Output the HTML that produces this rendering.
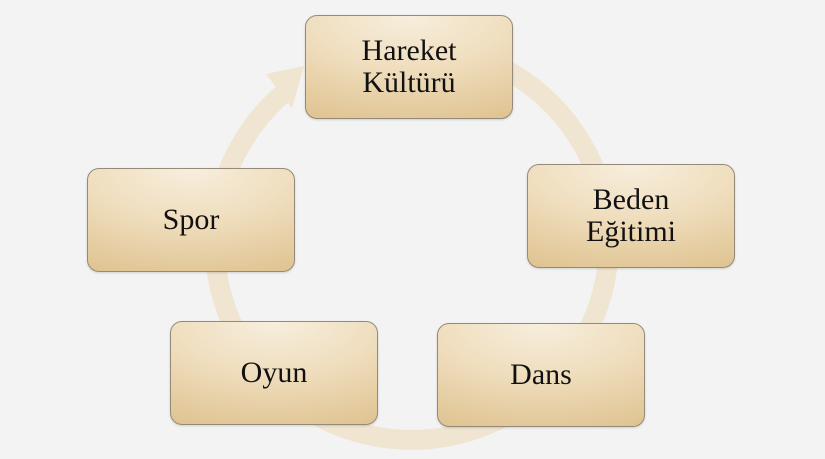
<!DOCTYPE html>
<html><head><meta charset="utf-8"><style>
body{margin:0;width:825px;height:459px;background:#f3f3f3;position:relative;overflow:hidden;font-family:"Liberation Serif",serif}
.b{position:absolute;width:208px;height:104px;border:1px solid #958a7a;border-radius:12px;box-sizing:border-box;
background:radial-gradient(ellipse 120% 120% at 50% 0%,#f7eedd 0%,#f0dfc0 40%,#ddbf8a 100%);
display:flex;align-items:center;justify-content:center;text-align:center;font-size:30px;line-height:32px;color:#111;
box-shadow:0 1px 2px rgba(0,0,0,.15)}
</style></head><body>
<svg width="825" height="459" style="position:absolute;left:0;top:0">
<path d="M285 92 A197 197 0 1 0 420 46" fill="none" stroke="#efe5d1" stroke-width="20"/>
<polygon points="304,66 266,74 292,108" fill="#efe5d1"/>
</svg>
<div class="b" style="left:305px;top:15px">Hareket<br>Kültürü</div>
<div class="b" style="left:527px;top:164px">Beden<br>Eğitimi</div>
<div class="b" style="left:437px;top:323px">Dans</div>
<div class="b" style="left:170px;top:321px">Oyun</div>
<div class="b" style="left:87px;top:168px">Spor</div>
</body></html>
